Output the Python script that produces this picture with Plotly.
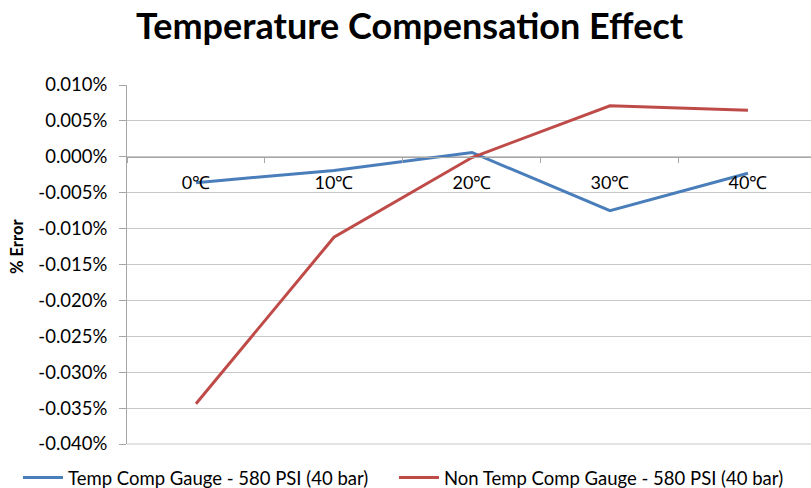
import plotly.graph_objects as go

# Temperature points and % error readings for each gauge
temps = ["0℃", "10℃", "20℃", "30℃", "40℃"]
temp_comp = [-0.0036, -0.0019, 0.0006, -0.0075, -0.0023]
non_temp_comp = [-0.0344, -0.0112, -0.0001, 0.0071, 0.0065]

y_ticks = [0.010, 0.005, 0.000, -0.005, -0.010, -0.015, -0.020,
           -0.025, -0.030, -0.035, -0.040]
y_tick_text = ["0.010%", "0.005%", "0.000%", "-0.005%", "-0.010%", "-0.015%",
               "-0.020%", "-0.025%", "-0.030%", "-0.035%", "-0.040%"]

BLUE = "#4a7ebb"
RED = "#be4b48"
GRID = "#c8c8c8"
FONT = "Lato"

fig = go.Figure()
fig.add_trace(go.Scatter(
    x=temps, y=temp_comp, mode="lines",
    name="Temp Comp Gauge - 580 PSI (40 bar)",
    line=dict(color=BLUE, width=3),
    legend="legend",
))
fig.add_trace(go.Scatter(
    x=temps, y=non_temp_comp, mode="lines",
    name="Non Temp Comp Gauge - 580 PSI (40 bar)",
    line=dict(color=RED, width=3),
    legend="legend2",
))

y_min, y_max = -0.040, 0.010
plot_l, plot_w, plot_h = 127, 684, 359
legend_y = -(478 - 444) / plot_h


def legend_at(px):
    # one legend entry placed at a pixel x position below the plot
    return dict(
        orientation="h",
        x=(px - plot_l) / plot_w, xanchor="left",
        y=legend_y, yanchor="middle",
        font=dict(family=FONT, size=18.5, color="#000000"),
        itemwidth=40,
    )


fig.update_layout(
    width=811, height=488,
    margin=dict(l=plot_l, r=0, t=85, b=44, autoexpand=False),
    paper_bgcolor="white", plot_bgcolor="white",
    font=dict(family=FONT, size=18, color="#404040"),
    title=dict(
        text="<b>Temperature Compensation Effect</b>",
        x=0.505, xanchor="center", y=1 - 26 / 488, yanchor="middle",
        font=dict(family=FONT, size=36, color="#000000"),
    ),
    showlegend=True,
    legend=legend_at(18),
    legend2=legend_at(394),
    xaxis=dict(
        type="category",
        range=[-0.5, 4.457],
        anchor="free",
        position=(0 - y_min) / (y_max - y_min),
        showline=True, linecolor="#a6a6a6", linewidth=1,
        ticks="outside", ticklen=5, tickcolor="#a6a6a6",
        tickson="boundaries",
        showgrid=False, zeroline=False,
        ticklabelstandoff=10,
        tickfont=dict(family=FONT, size=18, color="#000000"),
    ),
    yaxis=dict(
        range=[y_min, y_max],
        tickvals=y_ticks, ticktext=y_tick_text,
        showline=True, linecolor="#a6a6a6", linewidth=1,
        ticks="outside", ticklen=7, tickcolor="#a6a6a6",
        showgrid=True, gridcolor=GRID, gridwidth=1,
        zeroline=False,
        ticklabelstandoff=8,
        tickfont=dict(family=FONT, size=18.5, color="#000000"),
    ),
    # bottom edge of the plot area, drawn like the other gridlines
    shapes=[dict(
        type="line", xref="paper", yref="paper",
        x0=0, x1=1, y0=0, y1=0,
        line=dict(color=GRID, width=1), layer="below",
    )],
    annotations=[dict(
        text="<b>% Error</b>", textangle=-90,
        xref="paper", yref="paper",
        x=-(plot_l - 17) / plot_w, xanchor="center",
        y=(444 - 247) / plot_h, yanchor="middle",
        showarrow=False,
        font=dict(family=FONT, size=16.5, color="#000000"),
    )],
)

fig.write_html("out.html")
